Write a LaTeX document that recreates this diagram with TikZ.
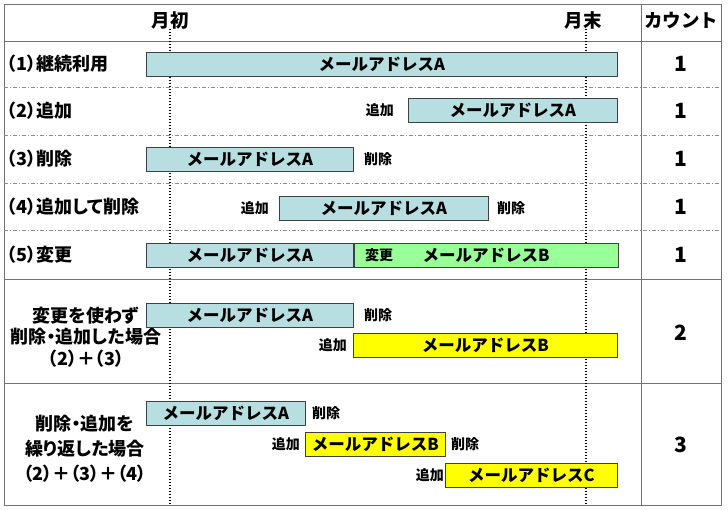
\documentclass[tikz,border=0pt]{standalone}
\usepackage{fontspec}
\setmainfont{Noto Sans CJK JP}
\newfontfamily\tightfont{Noto Sans CJK JP}[RawFeature=+palt]
\usepackage{tikz}
\usetikzlibrary{positioning}
\definecolor{mailblue}{RGB}{183,222,224}
\definecolor{mailgreen}{RGB}{153,255,153}
\definecolor{mailyellow}{RGB}{255,255,0}

\begin{document}
\begin{tikzpicture}[
        x=1pt, y=-1pt,
        every node/.style={inner sep=0pt, font=\fontsize{16.5}{19}\selectfont\bfseries},
        mailbar/.style={draw=black!75, line width=0.8pt, minimum height=24pt, anchor=west},
        note/.style={font=\fontsize{14}{16}\selectfont\bfseries},
        rowlabel/.style={anchor=west, font=\tightfont\fontsize{18}{20}\selectfont\bfseries},
        head/.style={font=\fontsize{18.5}{20}\selectfont\bfseries},
        count/.style={font=\fontsize{21}{22}\selectfont\bfseries},
        frameline/.style={draw=black!55, line width=1pt},
        rowsep/.style={draw=black!45, line width=0.6pt, dash pattern=on 4pt off 2pt on 1pt off 2pt},
        monthline/.style={draw=black, line width=1.3pt, dash pattern=on 1.3pt off 1.7pt}
    ]
    \useasboundingbox (0,0) rectangle (728,509);

    % table
    \draw [frameline] (4,4) rectangle (721,505);
    \draw [frameline] (4,41) -- (721,41);
    \draw [frameline] (641,4) -- (641,505);
    \draw [frameline] (4,279) -- (721,279);
    \draw [frameline] (4,383) -- (721,383);
    \foreach \y in {87,135,183,230}
        \draw [rowsep] (4,\y) -- (721,\y);

    \node [head] (start) at (170,20) {月初};
    \node [head] (end) at (583,20) {月末};
    \node [head] (cnt) at (681,20) {カウント};

    \coordinate (bottom) at (0,505);
    \draw [monthline] (start.south) -- (start.south |- bottom);
    \draw [monthline] ([xshift=3pt]end.south) -- ([xshift=3pt]end.south |- bottom);

    % row labels
    \node [rowlabel] (r1) at (7,64) {（1）継続利用};
    \node [rowlabel] (r2) at (7,111) {（2）追加};
    \node [rowlabel] (r3) at (7,159) {（3）削除};
    \node [rowlabel] (r4) at (7,207) {（4）追加して削除};
    \node [rowlabel] (r5) at (7,255) {（5）変更};
    \node [rowlabel, anchor=center, align=center, font=\tightfont\fontsize{18}{21.5}\selectfont\bfseries] (r6) at (86,337) {変更を使わず\\削除・追加した場合\\（2）＋（3）};
    \node [rowlabel, anchor=center, align=center, font=\tightfont\fontsize{18}{25}\selectfont\bfseries] (r7) at (85,449) {削除・追加を\\繰り返した場合\\（2）＋（3）＋（4）};

    % bars
    \node [mailbar, fill=mailblue, minimum width=471pt] (a1) at (146,64.5) {メールアドレスA};
    \node [mailbar, fill=mailblue, minimum width=209pt] (a2) at (408,110.5) {メールアドレスA};
    \node [mailbar, fill=mailblue, minimum width=207pt] (a3) at (146,159.5) {メールアドレスA};
    \node [mailbar, fill=mailblue, minimum width=209pt] (a4) at (279,208) {メールアドレスA};
    \node [mailbar, fill=mailblue, minimum width=207pt] (a5) at (146,255) {メールアドレスA};
    \node [mailbar, fill=mailgreen, minimum width=264pt, right=0pt of a5] (b5) {メールアドレスB};
    \node [mailbar, fill=mailblue, minimum width=207pt] (a6) at (146,315.5) {メールアドレスA};
    \node [mailbar, fill=mailyellow, minimum width=264pt] (b6) at (353,345.5) {メールアドレスB};
    \node [mailbar, fill=mailblue, minimum width=159pt] (a7) at (146,413) {メールアドレスA};
    \node [mailbar, fill=mailyellow, minimum width=140pt] (b7) at (305,444) {メールアドレスB};
    \node [mailbar, fill=mailyellow, minimum width=172pt] (c7) at (445,475) {メールアドレスC};

    % add / delete notes
    \node [note, left=14pt of a2] (add2) {追加};
    \node [note, right=10pt of a3] (del3) {削除};
    \node [note, left=10pt of a4] (add4) {追加};
    \node [note, right=8pt of a4] (del4) {削除};
    \node [note, right=11pt of a5] (chg5) {変更};
    \node [note, right=10pt of a6] (del6) {削除};
    \node [note, left=6pt of b6] (add6) {追加};
    \node [note, right=6pt of a7] (del7) {削除};
    \node [note, left=5pt of b7] (add7) {追加};
    \node [note, right=5pt of b7] (del7b) {削除};
    \node [note, left=1pt of c7] (add7c) {追加};

    % counts
    \node [count] (n1) at (681,64) {1};
    \node [count] (n2) at (681,111) {1};
    \node [count] (n3) at (681,159) {1};
    \node [count] (n4) at (681,207) {1};
    \node [count] (n5) at (681,255) {1};
    \node [count] (n6) at (681,333) {2};
    \node [count] (n7) at (681,445) {3};
\end{tikzpicture}
\end{document}
